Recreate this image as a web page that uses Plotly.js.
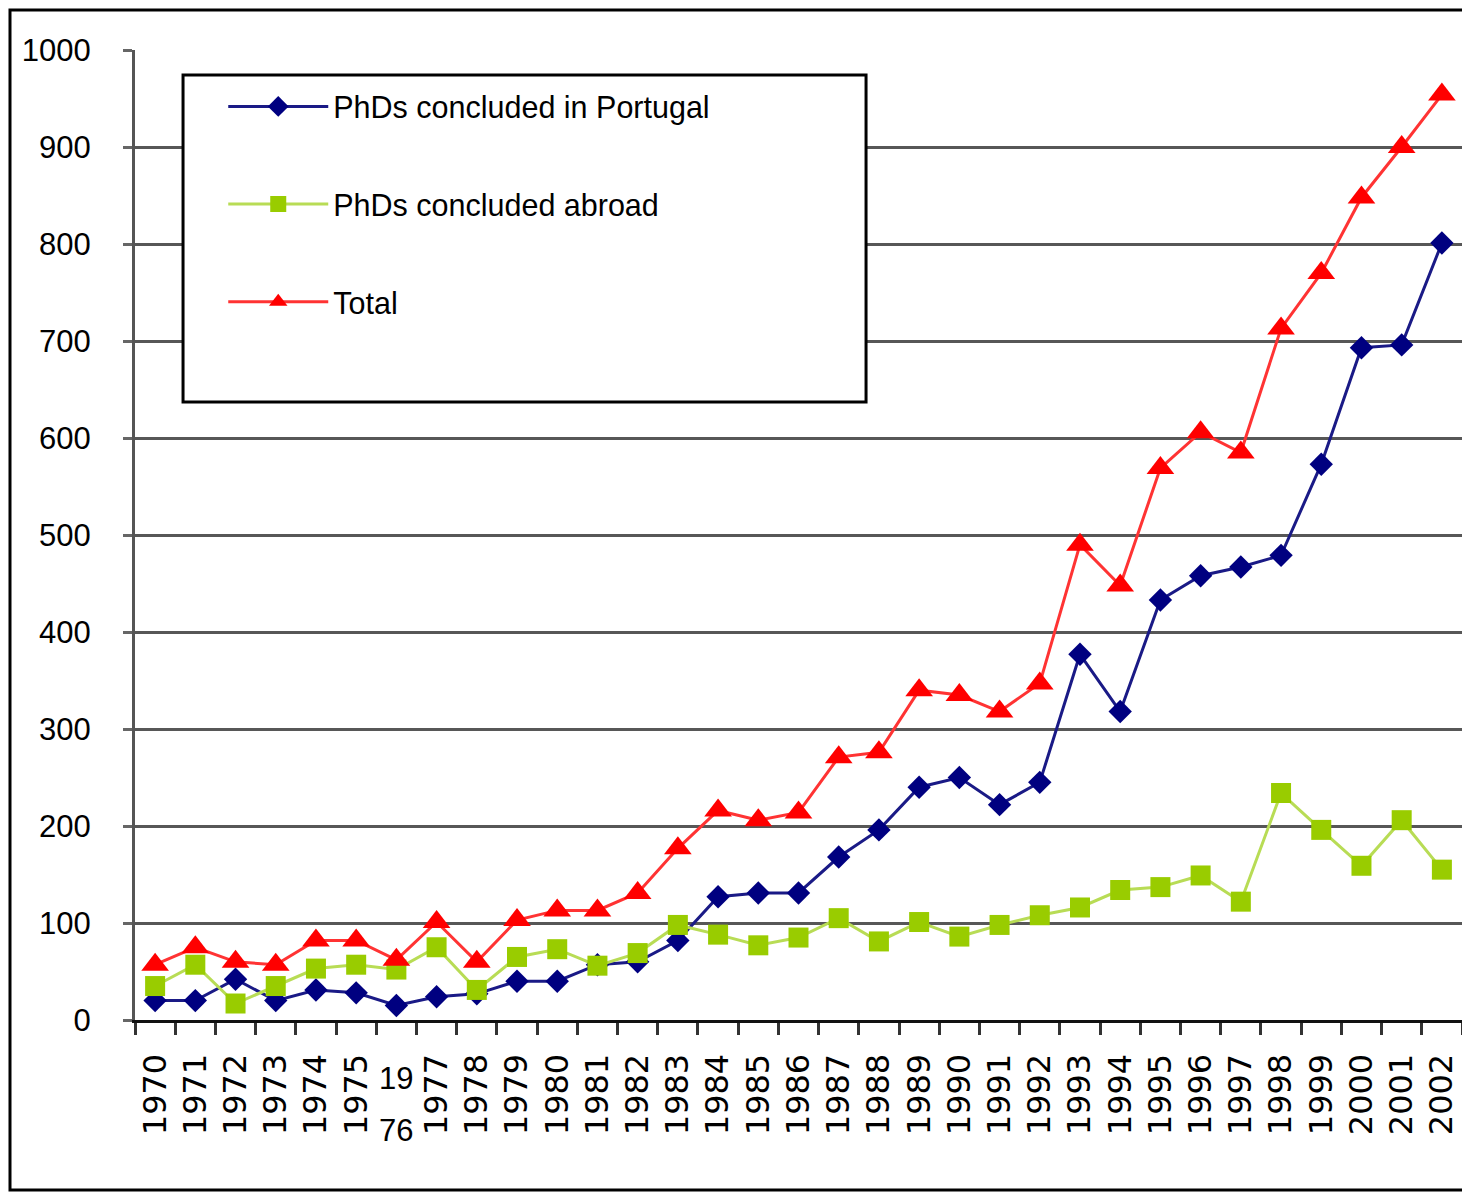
<!DOCTYPE html>
<html>
<head>
<meta charset="utf-8">
<script src="https://cdn.plot.ly/plotly-3.0.1.min.js"></script>
<style>
  html, body { margin: 0; padding: 0; background: #ffffff; }
  #chart { width: 1462px; height: 1196px; }
</style>
</head>
<body>
<div id="chart"></div>
<script>
const years = ["1970","1971","1972","1973","1974","1975","1976","1977","1978","1979","1980","1981","1982","1983","1984","1985","1986","1987","1988","1989","1990","1991","1992","1993","1994","1995","1996","1997","1998","1999","2000","2001","2002"];
const tickLabels = ["1970","1971","1972","1973","1974","1975","","1977","1978","1979","1980","1981","1982","1983","1984","1985","1986","1987","1988","1989","1990","1991","1992","1993","1994","1995","1996","1997","1998","1999","2000","2001","2002"];
const label1976Parts = ["19", "76"];
const portugal = [20,20,42,20,31,28,15,24,27,40,40,57,60,82,127,131,131,168,196,240,250,222,245,377,318,433,458,467,479,573,693,696,801];
const abroad = [35,57,17,35,53,57,52,75,31,65,73,56,69,98,88,77,85,105,81,101,86,98,108,116,134,137,149,122,234,196,159,206,155];
const total = [57,75,60,57,82,82,62,101,60,103,113,113,131,177,216,206,214,271,276,340,335,318,347,490,448,569,606,585,713,770,848,900,954];
const seriesNames = ["PhDs concluded in Portugal","PhDs concluded abroad","Total"];

const sans = "'Liberation Sans', Arial, sans-serif";

const traces = [
  {x: years, y: portugal, name: seriesNames[0], type: 'scatter', mode: 'lines+markers',
   legendgroup: 'a',
   line: {color: '#1a1a86', width: 3},
   marker: {symbol: 'diamond', size: 18, color: '#000080'}},
  {x: years, y: abroad, name: seriesNames[1], type: 'scatter', mode: 'lines+markers',
   legendgroup: 'b',
   line: {color: '#b8dc55', width: 3},
   marker: {symbol: 'square', size: 20, color: '#99cc00'}},
  {x: years, y: total, name: seriesNames[2], type: 'scatter', mode: 'lines+markers',
   legendgroup: 'c',
   line: {color: '#ff3333', width: 3},
   marker: {symbol: 'triangle-up', size: 24, color: '#ff0000'}}
];

const idx1976 = years.indexOf("1976");

const layout = {
  width: 1462, height: 1196,
  margin: {l: 135, r: 0, t: 50, b: 176, pad: 0},
  paper_bgcolor: '#ffffff', plot_bgcolor: '#ffffff',
  showlegend: true,
  legend: {
    x: 0.0665, y: 0.969, xanchor: 'left', yanchor: 'top',
    bgcolor: 'rgba(0,0,0,0)', borderwidth: 0,
    font: {family: sans, size: 30.5, color: '#000000'},
    traceorder: 'grouped', tracegroupgap: 55,
    itemwidth: 100
  },
  xaxis: {
    type: 'category', range: [-0.5, 32.5],
    tickmode: 'array', tickvals: years, ticktext: tickLabels,
    tickangle: -90, tickson: 'boundaries',
    ticks: 'outside', ticklen: 12, tickwidth: 3, tickcolor: '#333333',
    showline: true, linecolor: '#111111', linewidth: 3,
    showgrid: false, zeroline: false,
    ticklabelstandoff: 18,
    tickfont: {family: "'DejaVu Sans', Verdana, sans-serif", size: 32, color: '#000000'},
    fixedrange: true
  },
  yaxis: {
    range: [0, 1000], tickmode: 'linear', tick0: 0, dtick: 100,
    ticks: 'outside', ticklen: 9, tickwidth: 3, tickcolor: '#666666',
    showline: true, linecolor: '#555555', linewidth: 3,
    showgrid: true, gridcolor: '#575757', gridwidth: 3,
    zeroline: false,
    ticklabelstandoff: 26,
    tickfont: {family: sans, size: 31, color: '#000000'},
    fixedrange: true
  },
  shapes: [
    {type: 'rect', xref: 'paper', yref: 'paper',
     x0: 0.0362, x1: 0.5509, y0: 0.6371, y1: 0.9742,
     fillcolor: '#ffffff', line: {color: '#000000', width: 3}, layer: 'above'},
    {type: 'rect', xref: 'paper', yref: 'paper',
     x0: -0.0942, x1: 1.01, y0: -0.1753, y1: 1.0412,
     fillcolor: 'rgba(0,0,0,0)', line: {color: '#000000', width: 3}, layer: 'above'}
  ],
  annotations: [
    {x: idx1976, y: -0.0608, xref: 'x', yref: 'paper', text: label1976Parts[0],
     showarrow: false, xanchor: 'center', yanchor: 'middle',
     font: {family: sans, size: 31, color: '#000000'}},
    {x: idx1976, y: -0.1144, xref: 'x', yref: 'paper', text: label1976Parts[1],
     showarrow: false, xanchor: 'center', yanchor: 'middle',
     font: {family: sans, size: 31, color: '#000000'}}
  ]
};

Plotly.newPlot('chart', traces, layout, {displayModeBar: false, staticPlot: true});
</script>
</body>
</html>
